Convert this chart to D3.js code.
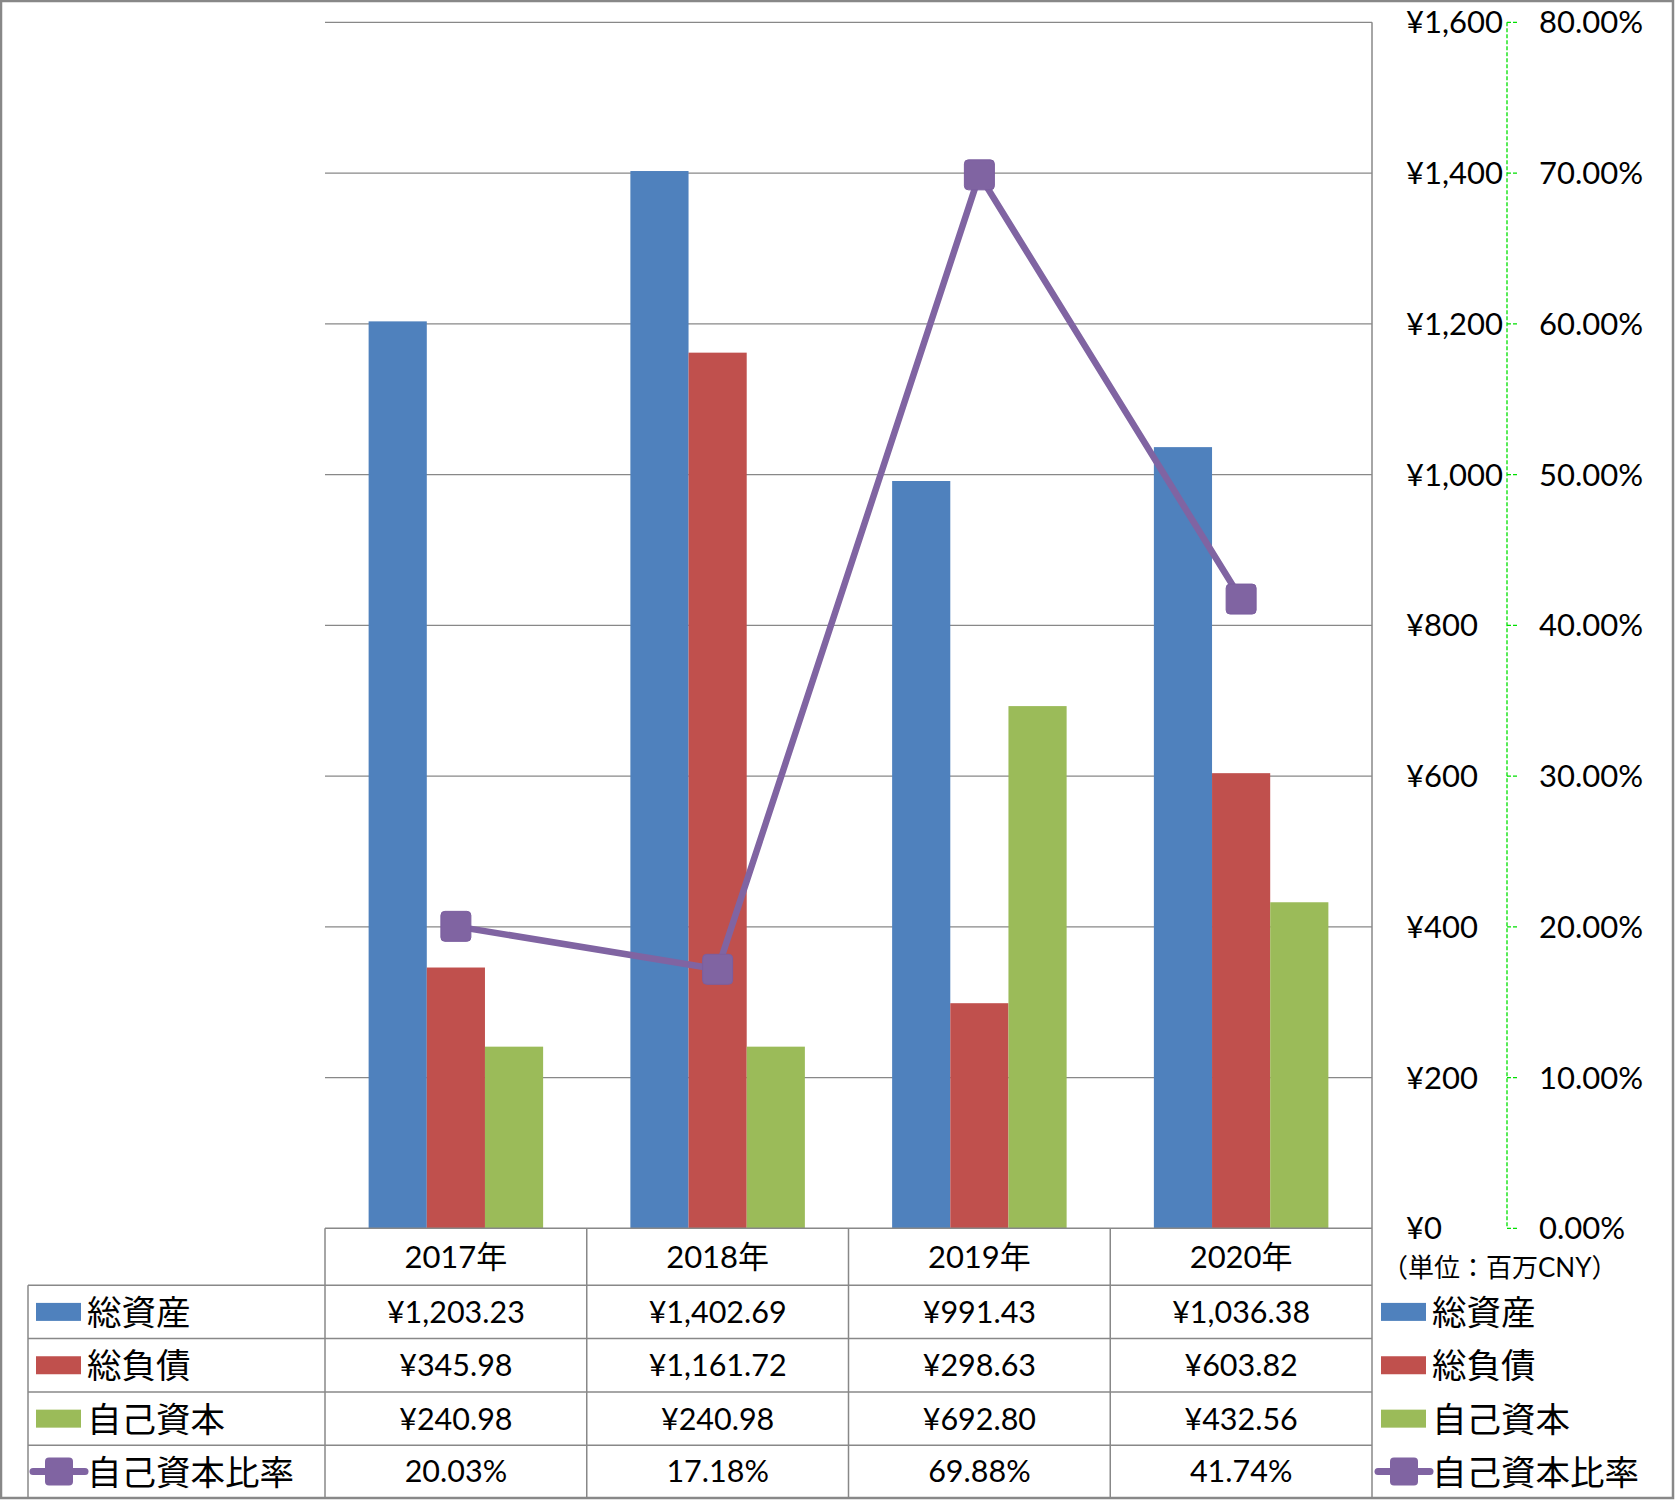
<!DOCTYPE html>
<html><head><meta charset="utf-8">
<script src="https://cdn.jsdelivr.net/npm/d3@7"></script>
<style>
body{margin:0;background:#fff;}
svg text{font-family:"Lato","Noto Sans CJK JP",sans-serif;fill:#000;}
</style></head>
<body><svg id="c" width="1675" height="1500"></svg>
<script>
const categories = ["2017年","2018年","2019年","2020年"];
const seriesNames = ["総資産","総負債","自己資本"];
const totalAssets = [1203.23, 1402.69, 991.43, 1036.38];
const totalLiabilities = [345.98, 1161.72, 298.63, 603.82];
const equity = [240.98, 240.98, 692.80, 432.56];
const ratioName = "自己資本比率";
const equityRatio = [20.03, 17.18, 69.88, 41.74];
const leftTicks = [0,200,400,600,800,1000,1200,1400,1600];
const rightTicks = [0,10,20,30,40,50,60,70,80];
const unitLabel = "（単位：百万CNY）";
const colors = ["#4F81BD","#C0504D","#9BBB59"];
const lineColor = "#8064A2";

const svg = d3.select("#c");
const L = 325, R = 1372, T = 22.3, B = 1228.3;
const x = d3.scaleBand().domain(categories).range([L,R]);
const bw = x.bandwidth()/4.5;
const yL = d3.scaleLinear().domain([0,1600]).range([B,T]);
const yR = d3.scaleLinear().domain([0,80]).range([B,T]);
const values = [totalAssets,totalLiabilities,equity];
const grid = "#888";

// gridlines
svg.append("g").selectAll("line").data(leftTicks.filter(d=>d>0)).join("line")
  .attr("x1",L).attr("x2",R).attr("y1",d=>yL(d)).attr("y2",d=>yL(d))
  .attr("stroke",grid).attr("stroke-width",1.2);

// bars
values.forEach((arr,si)=>{
  svg.append("g").selectAll("rect").data(arr).join("rect")
    .attr("x",(d,i)=>x(categories[i]) + x.bandwidth()/2 - 1.5*bw + si*bw)
    .attr("width",bw)
    .attr("y",d=>yL(d)).attr("height",d=>B-yL(d))
    .attr("fill",colors[si]);
});

// right plot border
svg.append("line").attr("x1",R).attr("x2",R).attr("y1",T).attr("y2",1498).attr("stroke",grid).attr("stroke-width",1.5);

// line series
const line = d3.line().x((d,i)=>x(categories[i])+x.bandwidth()/2).y(d=>yR(d));
svg.append("path").datum(equityRatio).attr("d",line).attr("fill","none")
  .attr("stroke",lineColor).attr("stroke-width",6.5).attr("stroke-linejoin","round");
const ms = 30;
svg.append("g").selectAll("rect").data(equityRatio).join("rect")
  .attr("x",(d,i)=>x(categories[i])+x.bandwidth()/2-ms/2).attr("y",d=>yR(d)-ms/2)
  .attr("width",ms).attr("height",ms).attr("rx",4)
  .attr("fill",lineColor).attr("stroke","#7b5e9f").attr("stroke-width",1);

// left (yen) axis labels on right side
const fmtYen = d=>"¥"+d3.format(",")(d);
svg.append("g").selectAll("text").data(leftTicks).join("text")
  .attr("x",1406).attr("y",d=>yL(d)).attr("dy","0.36em")
  .attr("font-size",31).text(fmtYen);

// secondary axis dashed green
const ax = 1507;
svg.append("line").attr("x1",ax).attr("x2",ax).attr("y1",T).attr("y2",B)
  .attr("stroke","#00e000").attr("stroke-width",1.3).attr("stroke-dasharray","4,2");
svg.append("g").selectAll("line").data(rightTicks).join("line")
  .attr("x1",ax).attr("x2",ax+10).attr("y1",d=>yR(d)).attr("y2",d=>yR(d))
  .attr("stroke","#00e000").attr("stroke-width",1.3).attr("stroke-dasharray","4,2");
svg.append("g").selectAll("text").data(rightTicks).join("text")
  .attr("x",1539).attr("y",d=>yR(d)).attr("dy","0.36em")
  .attr("font-size",31).text(d=>d3.format(".2f")(d)+"%");

svg.append("text").attr("x",1382).attr("y",1268).attr("dy","0.36em")
  .attr("font-size",26).text(unitLabel);

// data table
const rowY = [1285.3,1338.5,1392,1445.3,1497.7];
const tbl = svg.append("g").attr("stroke",grid).attr("stroke-width",1.5);
rowY.forEach(y=>tbl.append("line").attr("x1",28).attr("x2",R).attr("y1",y).attr("y2",y));
tbl.append("line").attr("x1",28).attr("x2",28).attr("y1",rowY[0]).attr("y2",1498);
categories.forEach(c=>tbl.append("line").attr("x1",x(c)).attr("x2",x(c)).attr("y1",B).attr("y2",1498));
tbl.append("line").attr("x1",L).attr("x2",R).attr("y1",B).attr("y2",B);

svg.append("g").selectAll("text").data(categories).join("text")
  .attr("x",d=>x(d)+x.bandwidth()/2).attr("y",(B+rowY[0])/2).attr("dy","0.36em")
  .attr("text-anchor","middle").attr("font-size",31).text(d=>d);

const fmtVal = d=>"¥"+d3.format(",.2f")(d);
const rows = [...values.map(a=>a.map(fmtVal)), equityRatio.map(d=>d3.format(".2f")(d)+"%")];
rows.forEach((r,ri)=>{
  const cy = (rowY[ri]+rowY[ri+1])/2;
  svg.append("g").selectAll("text").data(r).join("text")
    .attr("x",(d,i)=>x(categories[i])+x.bandwidth()/2).attr("y",cy).attr("dy","0.36em")
    .attr("text-anchor","middle").attr("font-size",30.5).text(d=>d);
});

// legends (left in table and right outside)
const legendNames = [...seriesNames, ratioName];
function legend(x0, tx){
  legendNames.forEach((n,i)=>{
    const cy = (rowY[i]+rowY[i+1])/2;
    if(i<3){
      svg.append("rect").attr("x",x0).attr("y",cy-9).attr("width",45).attr("height",18).attr("fill",colors[i]);
    } else {
      svg.append("line").attr("x1",x0-3).attr("x2",x0+49).attr("y1",cy).attr("y2",cy)
        .attr("stroke",lineColor).attr("stroke-width",7).attr("stroke-linecap","round");
      svg.append("rect").attr("x",x0+9).attr("y",cy-14).attr("width",28).attr("height",28).attr("rx",4).attr("fill",lineColor);
    }
    svg.append("text").attr("x",tx).attr("y",cy).attr("dy","0.38em").attr("font-size",34.5).text(n);
  });
}
legend(36, 87);
legend(1381, 1432);

// outer border
svg.append("rect").attr("x",1).attr("y",1).attr("width",1672).attr("height",1497)
  .attr("fill","none").attr("stroke",grid).attr("stroke-width",2.5);
</script></body></html>
